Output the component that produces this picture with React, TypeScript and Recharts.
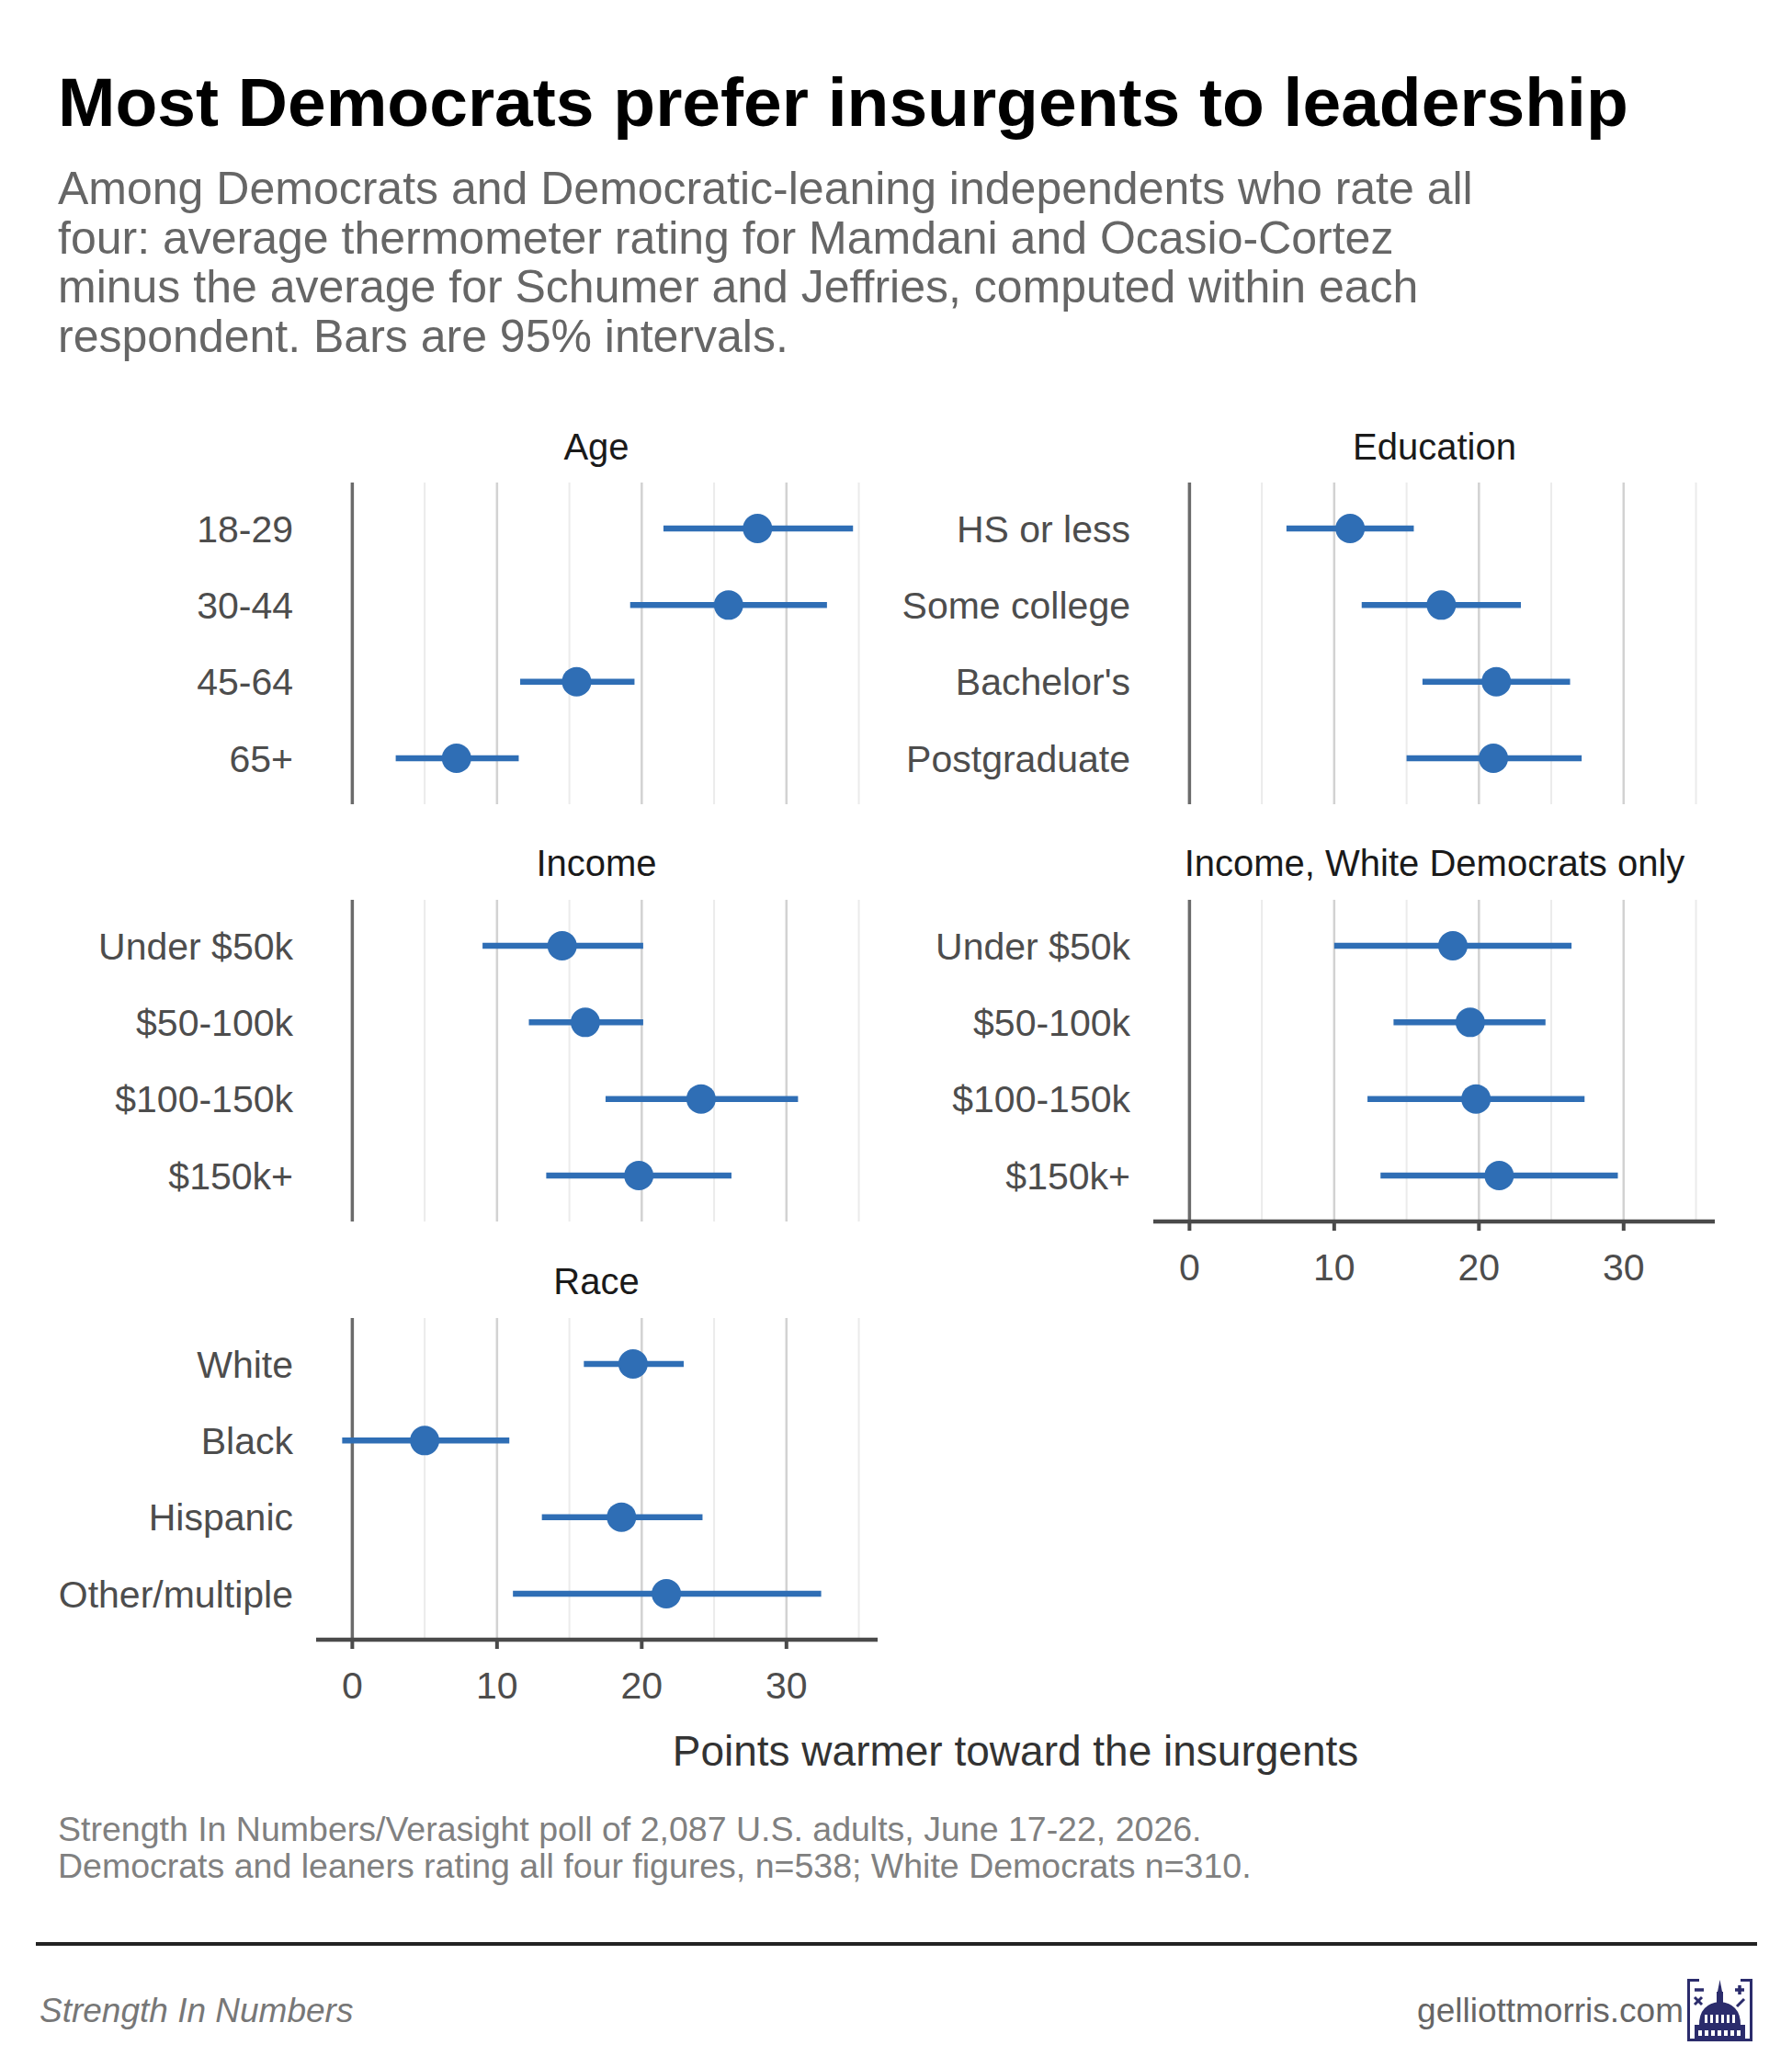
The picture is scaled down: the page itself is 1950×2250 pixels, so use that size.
import React from "react";
import { ScatterChart, Scatter, XAxis, YAxis, CartesianGrid, ErrorBar } from "recharts";

// values: point estimate and 95% interval ends
const ageLabels = ["18-29", "30-44", "45-64", "65+"];
const ageEst = [28.0, 26.0, 15.5, 7.2];
const ageLow = [21.5, 19.2, 11.6, 3.0];
const ageHigh = [34.6, 32.8, 19.5, 11.5];

const eduLabels = ["HS or less", "Some college", "Bachelor's", "Postgraduate"];
const eduEst = [11.1, 17.4, 21.2, 21.0];
const eduLow = [6.7, 11.9, 16.1, 15.0];
const eduHigh = [15.5, 22.9, 26.3, 27.1];

const incomeLabels = ["Under $50k", "$50-100k", "$100-150k", "$150k+"];
const incomeEst = [14.5, 16.1, 24.1, 19.8];
const incomeLow = [9.0, 12.2, 17.5, 13.4];
const incomeHigh = [20.1, 20.1, 30.8, 26.2];

const whiteIncomeEst = [18.2, 19.4, 19.8, 21.4];
const whiteIncomeLow = [10.0, 14.1, 12.3, 13.2];
const whiteIncomeHigh = [26.4, 24.6, 27.3, 29.6];

const raceLabels = ["White", "Black", "Hispanic", "Other/multiple"];
const raceEst = [19.4, 5.0, 18.6, 21.7];
const raceLow = [16.0, -0.7, 13.1, 11.1];
const raceHigh = [22.9, 10.85, 24.2, 32.4];

const xTicks = [0, 10, 20, 30];
const minorGrid = [5, 15, 25, 35];
const majorGrid = [10, 20, 30];

const FONT = '"Liberation Sans", Arial, Helvetica, sans-serif';
const BLUE = "#2f6eb5";
const PANEL_H = 350;
const AXIS_H = 90;

const subtitleLines = [
  "Among Democrats and Democratic-leaning independents who rate all",
  "four: average thermometer rating for Mamdani and Ocasio-Cortez",
  "minus the average for Schumer and Jeffries, computed within each",
  "respondent. Bars are 95% intervals.",
];

const sourceLines = [
  "Strength In Numbers/Verasight poll of 2,087 U.S. adults, June 17-22, 2026.",
  "Democrats and leaners rating all four figures, n=538; White Democrats n=310.",
];

function makeRows(labels: string[], est: number[], low: number[], high: number[]) {
  return labels.map((label, i) => ({
    label,
    pos: i + 1,
    est: est[i],
    err: [est[i] - low[i], high[i] - est[i]],
  }));
}

function Dot(props: any) {
  return <circle cx={props.cx} cy={props.cy} r={16} fill={BLUE} />;
}

type PanelProps = {
  left: number;
  top: number;
  labels: string[];
  est: number[];
  low: number[];
  high: number[];
  showAxis: boolean;
};

function Panel({ left, top, labels, est, low, high, showAxis }: PanelProps) {
  const data = makeRows(labels, est, low, high);
  return (
    <div style={{ position: "absolute", left, top }}>
      <ScatterChart
        width={960}
        height={PANEL_H + (showAxis ? AXIS_H : 0)}
        margin={{ top: 0, right: 5, bottom: 0, left: 44 }}
      >
        <CartesianGrid horizontal={false} verticalValues={minorGrid} stroke="#ebebeb" strokeWidth={2} />
        <CartesianGrid horizontal={false} verticalValues={majorGrid} stroke="#d2d2d2" strokeWidth={2.5} />
        <CartesianGrid horizontal={false} verticalValues={[0]} stroke="#6b6b6b" strokeWidth={3.5} />
        <XAxis
          type="number"
          dataKey="est"
          domain={[-2.5, 36.3]}
          allowDataOverflow
          ticks={xTicks}
          hide={!showAxis}
          height={showAxis ? AXIS_H : 0}
          axisLine={{ stroke: "#4a4a4a", strokeWidth: 4.5 }}
          tickLine={{ stroke: "#4a4a4a", strokeWidth: 4 }}
          tickSize={10}
          tickMargin={25}
          tick={{ fontSize: 41, fill: "#4d4d4d", fontFamily: FONT }}
        />
        <YAxis
          type="number"
          dataKey="pos"
          domain={[0.4, 4.6]}
          allowDataOverflow
          ticks={[1, 2, 3, 4]}
          interval={0}
          reversed
          width={300}
          axisLine={false}
          tickLine={false}
          tickSize={0}
          tickMargin={25}
          tickFormatter={(v: number) => labels[v - 1]}
          tick={{ fontSize: 41, fill: "#4d4d4d", fontFamily: FONT }}
        />
        <Scatter data={data} shape={Dot} isAnimationActive={false}>
          <ErrorBar
            dataKey="err"
            direction="x"
            width={0}
            stroke={BLUE}
            strokeWidth={6.5}
            isAnimationActive={false}
          />
        </Scatter>
      </ScatterChart>
    </div>
  );
}

function Logo() {
  const navy = "#2b2c6c";
  return (
    <g transform="translate(1836,2153)">
      <path d="M13,1.5 H1.5 V66.5 H69.5 V1.5 H58" fill="none" stroke={navy} strokeWidth={3} />
      <line x1={8} y1={12} x2={18} y2={12} stroke={navy} strokeWidth={3.5} />
      <line x1={8} y1={20} x2={16} y2={28} stroke={navy} strokeWidth={3} />
      <line x1={16} y1={20} x2={8} y2={28} stroke={navy} strokeWidth={3} />
      <line x1={52} y1={12} x2={62} y2={12} stroke={navy} strokeWidth={3.5} />
      <line x1={57} y1={7} x2={57} y2={17} stroke={navy} strokeWidth={3.5} />
      <line x1={54} y1={30} x2={62} y2={22} stroke={navy} strokeWidth={3} />
      <polygon points="35.5,1 33,14 38,14" fill={navy} />
      <rect x={32} y={14} width={7} height={13} fill={navy} />
      <path d="M13,50 Q13,27 35.5,25 Q58,27 58,50 Z" fill={navy} />
      {[18, 24, 30, 36, 42, 48].map((x) => (
        <rect key={x} x={x + 1} y={39} width={3} height={9} fill="#fff" />
      ))}
      <rect x={8} y={50} width={55} height={15} fill={navy} />
      {[12, 19, 26, 33, 40, 47, 54].map((x) => (
        <rect key={x} x={x} y={56} width={4} height={6} fill="#fff" />
      ))}
    </g>
  );
}

export default function App() {
  const leftX = 0;
  const rightX = 911;
  const tops = [525, 979, 1434];
  return (
    <div
      style={{
        position: "absolute",
        left: 0,
        top: 0,
        width: 1950,
        height: 2250,
        background: "#ffffff",
        fontFamily: FONT,
      }}
    >
      <svg width={1950} height={2250} style={{ position: "absolute", left: 0, top: 0 }}>
        <text x={63} y={137} fontSize={75} fontWeight="bold" fill="#000" fontFamily={FONT}>
          Most Democrats prefer insurgents to leadership
        </text>
        {subtitleLines.map((line, i) => (
          <text key={i} x={63} y={222 + i * 53.7} fontSize={50} fill="#666666" fontFamily={FONT}>
            {line}
          </text>
        ))}
        <text x={649} y={500} fontSize={40} fill="#1a1a1a" textAnchor="middle" fontFamily={FONT}>Age</text>
        <text x={1561} y={500} fontSize={40} fill="#1a1a1a" textAnchor="middle" fontFamily={FONT}>Education</text>
        <text x={649} y={953} fontSize={40} fill="#1a1a1a" textAnchor="middle" fontFamily={FONT}>Income</text>
        <text x={1561} y={953} fontSize={40} fill="#1a1a1a" textAnchor="middle" fontFamily={FONT}>
          Income, White Democrats only
        </text>
        <text x={649} y={1408} fontSize={40} fill="#1a1a1a" textAnchor="middle" fontFamily={FONT}>Race</text>
        <text x={1105} y={1921} fontSize={46} fill="#333333" textAnchor="middle" fontFamily={FONT}>
          Points warmer toward the insurgents
        </text>
        {sourceLines.map((line, i) => (
          <text key={i} x={63} y={2003 + i * 40} fontSize={37.5} fill="#808080" fontFamily={FONT}>
            {line}
          </text>
        ))}
        <line x1={39} y1={2115} x2={1912} y2={2115} stroke="#222222" strokeWidth={4} />
        <text x={43} y={2200} fontSize={37} fontStyle="italic" fill="#777777" fontFamily={FONT}>
          Strength In Numbers
        </text>
        <text x={1832} y={2200} fontSize={37} fill="#666666" textAnchor="end" fontFamily={FONT}>
          gelliottmorris.com
        </text>
        <Logo />
      </svg>
      <Panel left={leftX} top={tops[0]} labels={ageLabels} est={ageEst} low={ageLow} high={ageHigh} showAxis={false} />
      <Panel left={rightX} top={tops[0]} labels={eduLabels} est={eduEst} low={eduLow} high={eduHigh} showAxis={false} />
      <Panel left={leftX} top={tops[1]} labels={incomeLabels} est={incomeEst} low={incomeLow} high={incomeHigh} showAxis={false} />
      <Panel
        left={rightX}
        top={tops[1]}
        labels={incomeLabels}
        est={whiteIncomeEst}
        low={whiteIncomeLow}
        high={whiteIncomeHigh}
        showAxis={true}
      />
      <Panel left={leftX} top={tops[2]} labels={raceLabels} est={raceEst} low={raceLow} high={raceHigh} showAxis={true} />
    </div>
  );
}
